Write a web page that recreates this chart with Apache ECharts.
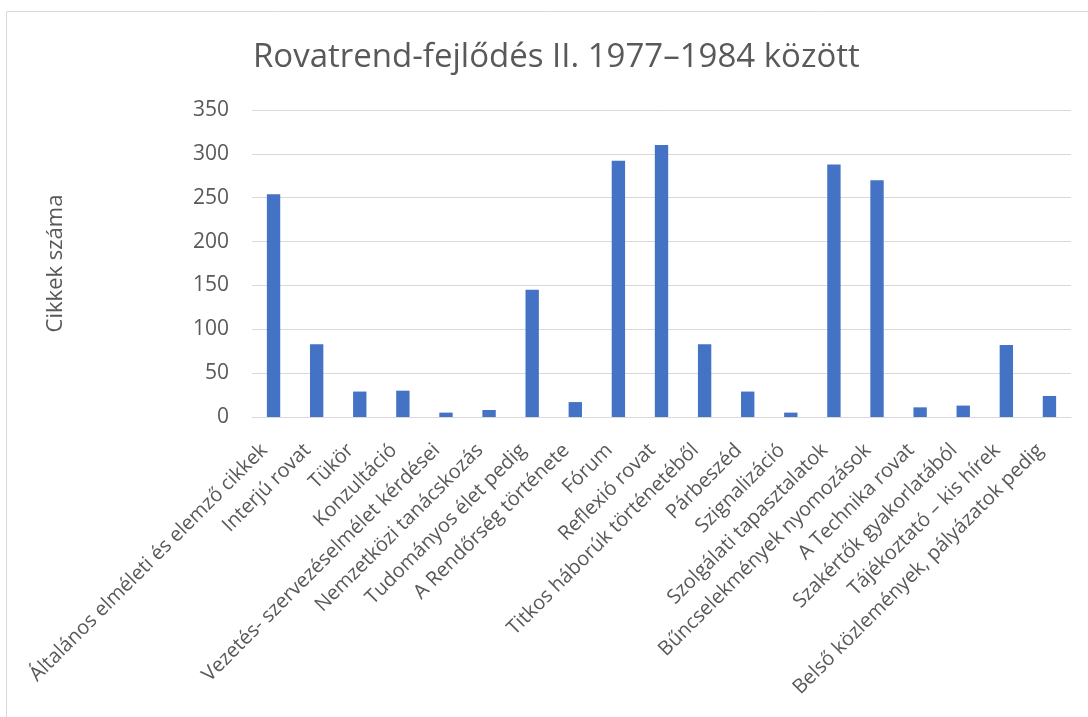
<!DOCTYPE html>
<html>
<head>
<meta charset="utf-8">
<script src="https://cdn.jsdelivr.net/npm/echarts@6/dist/echarts.min.js"></script>
<style>
html,body{margin:0;padding:0;background:#fff;}
#chart{width:1088px;height:717px;}
</style>
</head>
<body>
<div id="chart"></div>
<script>
const categories = [
  'Általános elméleti és elemző cikkek',
  'Interjú rovat',
  'Tükör',
  'Konzultáció',
  'Vezetés- szervezéselmélet kérdései',
  'Nemzetközi tanácskozás',
  'Tudományos élet pedig',
  'A Rendőrség története',
  'Fórum',
  'Reflexió rovat',
  'Titkos háborúk történetéből',
  'Párbeszéd',
  'Szignalizáció',
  'Szolgálati tapasztalatok',
  'Bűncselekmények nyomozások',
  'A Technika rovat',
  'Szakértők gyakorlatából',
  'Tájékoztató – kis hírek',
  'Belső közlemények, pályázatok pedig'
];
const values = [254, 83, 29, 30, 5, 8, 145, 17, 292, 310, 83, 29, 5, 288, 270, 11, 13, 82, 24];
const titleText = 'Rovatrend-fejlődés II. 1977–1984 között';
const yAxisName = 'Cikkek száma';

const chart = echarts.init(document.getElementById('chart'));
const font = '"Open Sans", sans-serif';
chart.setOption({
  animation: false,
  backgroundColor: '#ffffff',
  graphic: [{
    type: 'rect',
    shape: {x: 6.5, y: 11.5, width: 1100, height: 720},
    style: {fill: 'none', stroke: '#d9d9d9', lineWidth: 1},
    silent: true
  }],
  title: {
    text: titleText,
    left: 248,
    top: 36,
    textStyle: {fontFamily: font, fontSize: 33, fontWeight: 'normal', color: '#595959'}
  },
  grid: {left: 252, right: 17, top: 110, bottom: 300, containLabel: false},
  xAxis: {
    type: 'category',
    data: categories,
    axisLine: {show: true, lineStyle: {color: '#d9d9d9', width: 1}},
    axisTick: {show: false},
    axisLabel: {
      interval: 0,
      rotate: 45,
      margin: 21,
      padding: [0, 13, 0, 0],
      fontFamily: font,
      fontSize: 20,
      color: '#595959'
    }
  },
  yAxis: {
    type: 'value',
    min: 0,
    max: 350,
    interval: 50,
    name: yAxisName,
    nameLocation: 'middle',
    nameGap: 185,
    nameRotate: 90,
    nameTextStyle: {fontFamily: font, fontSize: 22, color: '#595959'},
    axisLine: {show: false},
    axisTick: {show: false},
    splitLine: {lineStyle: {color: '#d9d9d9', width: 1}},
    axisLabel: {fontFamily: font, fontSize: 21, color: '#595959', margin: 23}
  },
  series: [{
    type: 'bar',
    data: values,
    barWidth: '31%',
    itemStyle: {color: '#4472C4'}
  }]
});
</script>
</body>
</html>
